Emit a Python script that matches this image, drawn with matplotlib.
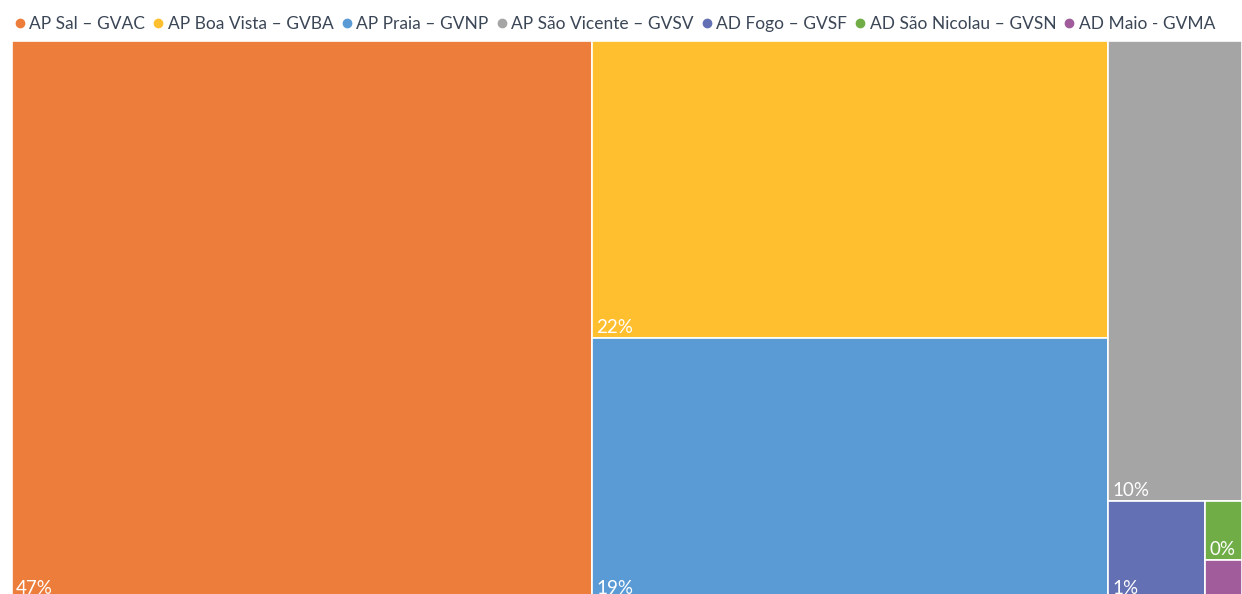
import matplotlib.pyplot as plt
from matplotlib.lines import Line2D
from matplotlib.patches import Rectangle

# --- data (share of traffic per airport) ---
aeroportos = [
    "AP Sal – GVAC",
    "AP Boa Vista – GVBA",
    "AP Praia – GVNP",
    "AP São Vicente – GVSV",
    "AD Fogo – GVSF",
    "AD São Nicolau – GVSN",
    "AD Maio - GVMA",
]
quota = [0.4715, 0.2233, 0.1962, 0.0896, 0.0139, 0.0032, 0.0021]
# the Maio label is hidden in the original (too small)
rotulos = ["47%", "22%", "19%", "10%", "1%", "0%", ""]
cores = ["#ED7D3B", "#FFBF2F", "#5B9BD5", "#A5A5A5", "#6370B4", "#70AD47", "#A05C9B"]

# treemap drawing area in px (top-left origin)
W, H = 1230.0, 558.0


def pior(linha, lado):
    s = sum(linha)
    return max(max(lado * lado * a / (s * s), (s * s) / (lado * lado * a)) for a in linha)


def squarify(areas, x, y, w, h):
    rects = []
    areas = list(areas)
    while areas:
        lado = min(w, h)
        linha = [areas[0]]
        i = 1
        while i < len(areas) and pior(linha + [areas[i]], lado) <= pior(linha, lado):
            linha.append(areas[i])
            i += 1
        areas = areas[i:]
        s = sum(linha)
        if w >= h:
            # column at the left
            cw = s / h
            yy = y
            for a in linha:
                rh = a / cw
                rects.append((x, yy, cw, rh))
                yy += rh
            x += cw
            w -= cw
        else:
            # row at the top
            rh = s / w
            xx = x
            for a in linha:
                rw = a / rh
                rects.append((xx, y, rw, rh))
                xx += rw
            y += rh
            h -= rh
    return rects


total = sum(quota)
areas = [q / total * W * H for q in quota]
rects = squarify(areas, 0, 0, W, H)

fig = plt.figure(figsize=(12.42, 5.94), dpi=100)
ax = fig.add_axes([12 / 1242, (553 - H) / 594, W / 1242, H / 594])
ax.set_xlim(0, W)
ax.set_ylim(H, 0)
ax.axis("off")

for (x, y, w, h), cor, rot in zip(rects, cores, rotulos):
    ax.add_patch(Rectangle((x, y), w, h, facecolor=cor, edgecolor="white", lw=1.2))
    if rot:
        ax.text(x + 4, y + h - 5, rot, color="white", fontsize=13.5,
                family="Lato", ha="left", va="baseline")

handles = [Line2D([], [], marker="o", ls="", color=c, markersize=6) for c in cores]
fig.legend(handles, aeroportos, loc="center", bbox_to_anchor=(614 / 1242, 1 - 24 / 594),
           ncol=len(aeroportos), frameon=False, handletextpad=0.15, columnspacing=0.35,
           handlelength=0.8, prop={"family": "Lato", "size": 12.5}, labelcolor="#3B4656")

fig.savefig("out.png", dpi=100)
